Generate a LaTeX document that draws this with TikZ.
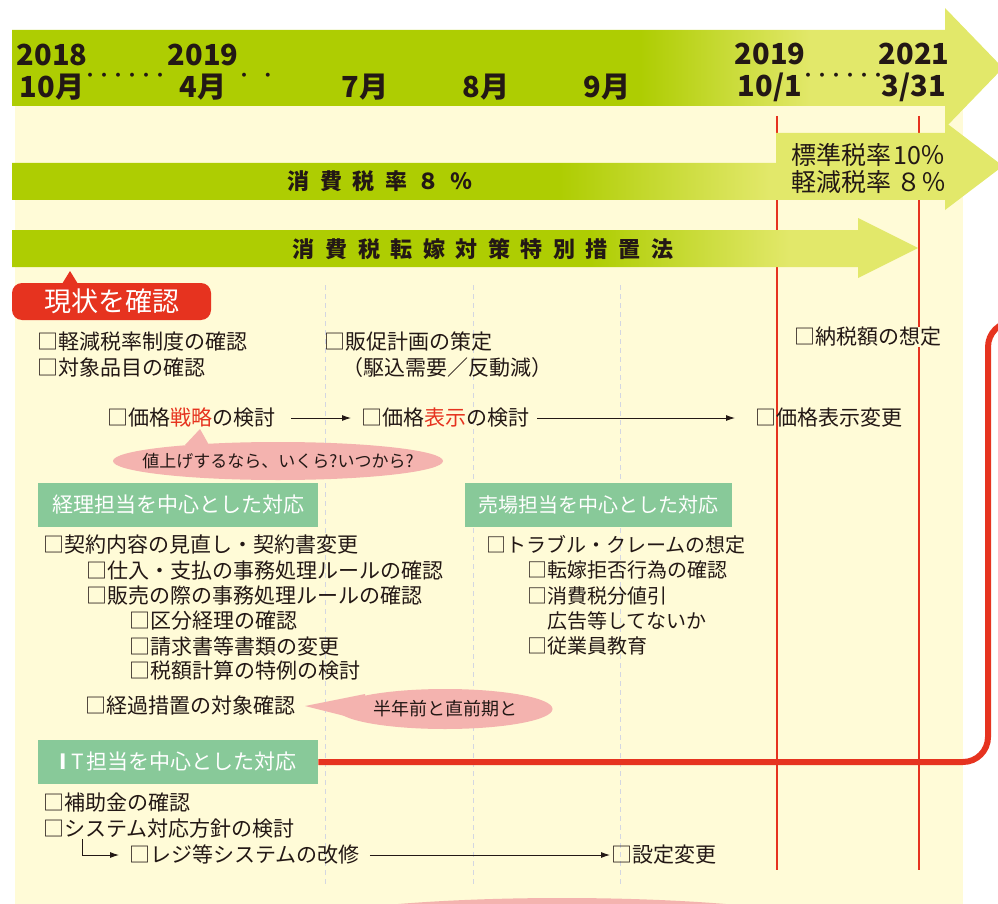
\documentclass[tikz,border=0pt]{standalone}
\usepackage{fontspec}
\setmainfont{Noto Sans CJK JP}
\usetikzlibrary{positioning, shapes.geometric, arrows.meta}

\definecolor{bandDark}{HTML}{AECD02}
\definecolor{bandLight}{HTML}{E2E86A}
\definecolor{paper}{HTML}{FFFBD7}
\definecolor{boxGreen}{HTML}{88C999}
\definecolor{lineRed}{HTML}{E6331F}
\definecolor{calloutPink}{HTML}{F4B3AF}
\definecolor{ink}{HTML}{231815}
\definecolor{guideGray}{HTML}{D3D6E2}

% fades of the three bands (path box = 25bp..75bp)
\pgfdeclarehorizontalshading{fadeDates}{100bp}{color(0bp)=(bandDark); color(56.7bp)=(bandDark); color(65.3bp)=(bandLight); color(100bp)=(bandLight)}
\pgfdeclarehorizontalshading{fadeRate}{100bp}{color(0bp)=(bandDark); color(52.6bp)=(bandDark); color(63.2bp)=(bandLight); color(100bp)=(bandLight)}
\pgfdeclarehorizontalshading{fadeLaw}{100bp}{color(0bp)=(bandDark); color(56.9bp)=(bandDark); color(67.9bp)=(bandLight); color(100bp)=(bandLight)}

\begin{document}
\begin{tikzpicture}[x=1pt, y=1pt,
  item/.style={anchor=west, inner sep=0pt, text=ink, font=\fontsize{21}{25}\selectfont},
  teamhead/.style={anchor=west, fill=boxGreen, text=white, minimum height=44pt, inner sep=0pt, font=\fontsize{21}{24}\selectfont},
  month/.style={text=ink, inner sep=0pt, align=center, font=\fontsize{29}{32}\selectfont\bfseries},
  leader/.style={text=ink, inner sep=0pt, font=\fontsize{14}{14}\selectfont\bfseries},
  flow/.style={draw=ink, line width=0.9pt, -{Latex[length=9pt,width=6pt]}},
  guide/.style={draw=guideGray, line width=0.8pt, dash pattern=on 5pt off 4pt},
  deadline/.style={draw=lineRed, line width=1.6pt},
  callout/.style={ellipse, fill=calloutPink, text=ink, inner xsep=-40pt, inner ysep=0pt},
  bandtext/.style={text=ink, inner sep=0pt, font=\fontsize{22}{24}\selectfont\bfseries\addfontfeature{LetterSpace=48}},
]
\useasboundingbox (0,0) rectangle (998,-904);
\clip (0,0) rectangle (998,-904);

% background
\fill[paper] (15,-106) rectangle (963,-904);
\fill[calloutPink] (562,-935) ellipse [x radius=300, y radius=37];

% deadlines and guides
\draw[deadline] (777,-116) -- (777,-870);
\draw[deadline] (919,-116) -- (919,-870);
\draw[guide] (325,-285) -- (325,-885);
\draw[guide] (473,-285) -- (473,-885);
\draw[guide] (620,-285) -- (620,-885);

% bands
\shade[shading=fadeDates] (12,-30) -- (945,-30) -- (945,-8) -- (1003,-68) -- (945,-128) -- (945,-106) -- (12,-106) -- cycle;
\shade[shading=fadeRate] (12,-163) -- (776,-163) -- (776,-133) -- (945,-133) -- (945,-122) -- (1003,-166) -- (945,-210) -- (945,-200) -- (12,-200) -- cycle;
\shade[shading=fadeLaw] (12,-230) -- (858,-230) -- (858,-218) -- (918,-248) -- (858,-278) -- (858,-267) -- (12,-267) -- cycle;

% dates
\node[month] (d1810) at (52,-72) {2018\\10月};
\node[leader] (dots1) at (125,-77) {・・・・・・};
\node[month] (d1904) at (203,-72) {2019\\4月};
\node[leader] (dots2) at (256,-77) {・\hspace{10pt}・};
\node[month] (d1907) at (365,-87) {7月};
\node[month] (d1908) at (486,-87) {8月};
\node[month] (d1909) at (607,-87) {9月};
\node[month] (d1910) at (770,-72) {2019\\10/1};
\node[leader] (dots3) at (843,-77) {・・・・・・};
\node[month] (d2103) at (914,-72) {2021\\3/31};

\node[bandtext] (rate8) at (380,-181) {消費税率８％};
\node[text=ink, inner sep=0pt, anchor=west, align=left, font=\fontsize{25}{27}\selectfont] (rate10) at (791,-168) {標準税率\hspace{2pt}10％\\軽減税率 ８％};
\node[bandtext] (tenka) at (483,-249) {消費税転嫁対策特別措置法};

% current state
\node[fill=lineRed, text=white, rounded corners=10pt, minimum width=199pt, minimum height=37pt, inner sep=0pt, font=\fontsize{27}{30}\selectfont] (genjo) at (111.5,-301.5) {現状を確認};
\fill[lineRed] (62,-284) -- (70,-271) -- (78,-284) -- cycle;

\node[item] (seido) at (37,-342) {□軽減税率制度の確認};
\node[item] (hinmoku) at (37,-368) {□対象品目の確認};
\node[item] (hansoku) at (324,-342) {□販促計画の策定};
\node[item] (kakekomi) at (342,-368) {（駆込需要／反動減）};
\node[item, fill=paper] (nouzei) at (794,-337) {□納税額の想定};

\node[item] (senryaku) at (107,-418) {□価格\textcolor{lineRed}{戦略}の検討};
\node[item] (hyoji) at (361,-418) {□価格\textcolor{lineRed}{表示}の検討};
\node[item] (henko) at (755,-418) {□価格表示変更};
\draw[flow, shorten <=16pt, shorten >=10pt] (senryaku) -- (hyoji);
\draw[flow, shorten <=8pt, shorten >=20pt] (hyoji) -- (henko);

\fill[calloutPink] (185,-445) -- (200,-429) -- (209,-445) -- cycle;
\node[callout, minimum width=330pt, minimum height=38pt, font=\fontsize{17}{20}\selectfont] (neage) at (278,-461) {値上げするなら、いくら?いつから?};

% accounting
\node[teamhead, minimum width=280pt] (keiri) at (38,-505) {経理担当を中心とした対応};
\node[item] (keiyaku) at (43,-545) {□契約内容の見直し・契約書変更};
\node[item] (shiire) at (86,-571) {□仕入・支払の事務処理ルールの確認};
\node[item] (hanbai) at (86,-596) {□販売の際の事務処理ルールの確認};
\node[item] (kubun) at (129,-621) {□区分経理の確認};
\node[item] (seikyu) at (129,-646) {□請求書等書類の変更};
\node[item] (tokurei) at (129,-671) {□税額計算の特例の検討};
\node[item] (keika) at (85,-706) {□経過措置の対象確認};
\fill[calloutPink] (305,-706) -- (365,-694) -- (365,-721) -- cycle;
\node[callout, minimum width=215pt, minimum height=40pt, font=\fontsize{18}{20}\selectfont] (hantoshi) at (445,-709) {半年前と直前期と};

% sales floor
\node[teamhead, minimum width=267pt, font=\fontsize{20}{24}\selectfont] (uriba) at (465,-505) {売場担当を中心とした対応};
\node[item, font=\fontsize{20}{24}\selectfont] (trouble) at (486,-545) {□トラブル・クレームの想定};
\node[item, font=\fontsize{20}{24}\selectfont] (kyohi) at (527,-570) {□転嫁拒否行為の確認};
\node[item, font=\fontsize{20}{24}\selectfont] (nebiki) at (527,-596) {□消費税分値引};
\node[item, font=\fontsize{20}{24}\selectfont] (kokoku) at (547,-621) {広告等してないか};
\node[item, font=\fontsize{20}{24}\selectfont] (kyoiku) at (527,-646) {□従業員教育};

% IT
\node[teamhead, minimum width=280pt] (itbox) at (38,-762) {\textbf{I}\hspace{4pt}T\hspace{3pt}担当を中心とした対応};
\draw[lineRed, line width=6pt, rounded corners=25pt] (itbox.east) -- (988,-762) -- (988,-322) -- (1040,-322);
\node[item] (hojo) at (43,-803) {□補助金の確認};
\node[item] (hoshin) at (43,-829) {□システム対応方針の検討};
\node[item] (regi) at (129,-855) {□レジ等システムの改修};
\node[item] (settei) at (611,-855) {□設定変更};
\draw[flow, shorten >=10pt] ([xshift=39pt]hoshin.south west) |- (regi);
\draw[flow, shorten <=10pt, shorten >=1pt] (regi) -- (settei);
\end{tikzpicture}
\end{document}
